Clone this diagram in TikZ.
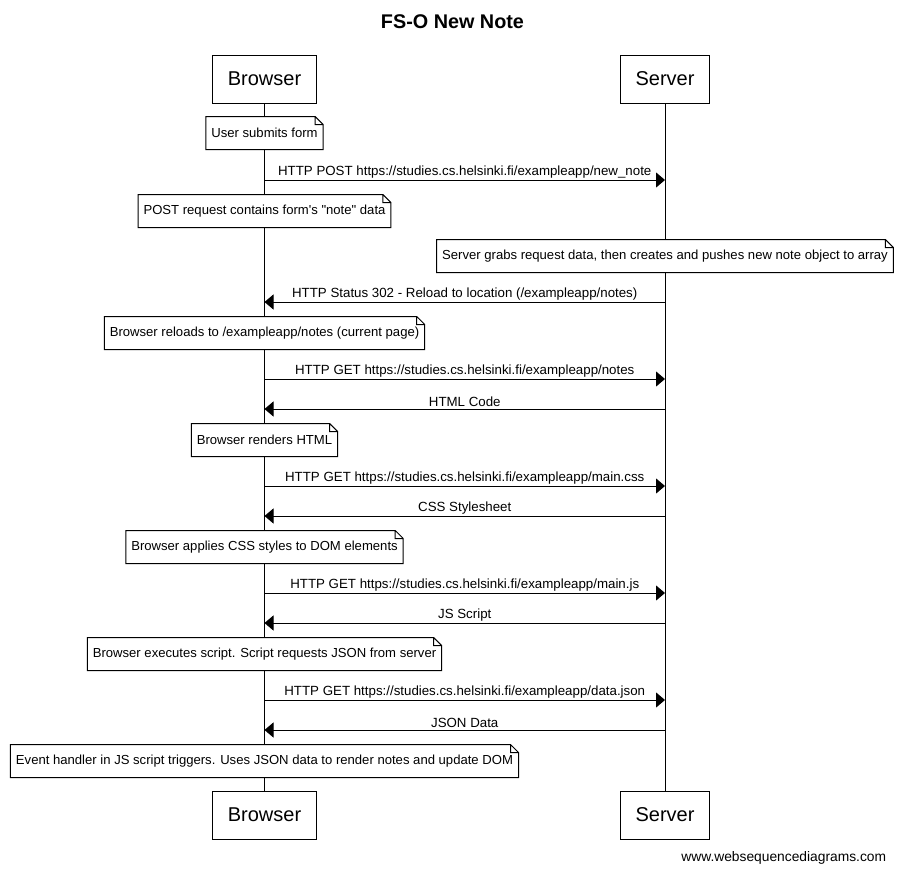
\documentclass[tikz,border=0pt]{standalone}
\usepackage{fontspec}
\setmainfont{Liberation Sans}[Ligatures=TeXOff]
\usetikzlibrary{arrows.meta}
\tikzset{
  actor/.style={draw, fill=white, line width=1pt, minimum height=48pt, inner xsep=15pt, font=\fontsize{20}{24}\selectfont},
  note/.style={fill=white, minimum height=32pt, inner xsep=5pt, font=\fontsize{13.1}{15}\selectfont},
  msg/.style={line width=1pt, -{Triangle[length=9pt,width=15pt]}},
  lbl/.style={above, inner sep=1.5pt, font=\fontsize{13.3}{15}\selectfont},
}
\begin{document}
\begin{tikzpicture}[x=1pt, y=-1pt, line width=1pt]
        \useasboundingbox (0,0) rectangle (903,873);
        % title
        \node[font=\bfseries\fontsize{19.8}{23}\selectfont] (title) at (452.5,22) {FS-O New Note};
        % actors
        \node[actor] (browser) at (264.5,79) {Browser};
        \node[actor] (server) at (665,79) {Server};
        \node[actor] (browserend) at (264.5,815) {Browser};
        \node[actor] (serverend) at (665,815) {Server};
        \draw (browser) -- (browserend) (server) -- (serverend);
        % notes
        \node[note] (n1) at (264.5,133) {User submits form};
        \node[note] (n2) at (264.5,211) {POST request contains form's "note" data};
        \node[note] (n3) at (665,256) {Server grabs request data, then creates and pushes new note object to array};
        \node[note] (n4) at (264.5,333) {Browser reloads to /exampleapp/notes (current page)};
        \node[note] (n5) at (264.5,440) {Browser renders HTML};
        \node[note] (n6) at (264.5,547) {Browser applies CSS styles to DOM elements};
        \node[note] (n7) at (264.5,654) {Browser executes script. Script requests JSON from server};
        \node[note] (n8) at (264.5,761) {Event handler in JS script triggers. Uses JSON data to render notes and update DOM};
        \foreach \i in {1,...,8}
          \draw (n\i.south west) -- (n\i.south east) -- ([yshift=-8pt]n\i.north east)
                -- ([xshift=-8pt]n\i.north east) -- (n\i.north west) -- cycle
                ([xshift=-8pt]n\i.north east) |- ([yshift=-8pt]n\i.north east);
        % messages
        \foreach \i/\y in {1/180,2/302,3/379,4/409,5/486,6/516,7/593,8/623,9/700,10/730} {
          \coordinate (b\i) at (browser |- 0,\y);
          \coordinate (s\i) at (server |- 0,\y);
        }
        \draw[msg] (b1) -- node[lbl] {HTTP POST https://studies.cs.helsinki.fi/exampleapp/new\_note} (s1);
        \draw[msg] (s2) -- node[lbl] {HTTP Status 302 - Reload to location (/exampleapp/notes)} (b2);
        \draw[msg] (b3) -- node[lbl] {HTTP GET https://studies.cs.helsinki.fi/exampleapp/notes} (s3);
        \draw[msg] (s4) -- node[lbl] {HTML Code} (b4);
        \draw[msg] (b5) -- node[lbl] {HTTP GET https://studies.cs.helsinki.fi/exampleapp/main.css} (s5);
        \draw[msg] (s6) -- node[lbl] {CSS Stylesheet} (b6);
        \draw[msg] (b7) -- node[lbl] {HTTP GET https://studies.cs.helsinki.fi/exampleapp/main.js} (s7);
        \draw[msg] (s8) -- node[lbl] {JS Script} (b8);
        \draw[msg] (b9) -- node[lbl] {HTTP GET https://studies.cs.helsinki.fi/exampleapp/data.json} (s9);
        \draw[msg] (s10) -- node[lbl] {JSON Data} (b10);
        % footer
        \node[anchor=east, font=\fontsize{13.8}{16}\selectfont] (footer) at (890,858) {www.websequencediagrams.com};
\end{tikzpicture}
\end{document}
